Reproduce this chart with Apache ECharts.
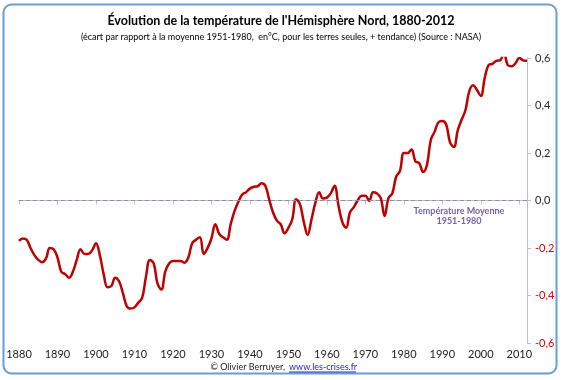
<!DOCTYPE html>
<html>
<head>
<meta charset="utf-8">
<script src="https://cdn.jsdelivr.net/npm/echarts@6/dist/echarts.min.js"></script>
<style>
html,body{margin:0;padding:0;background:#fff;}
#chart{width:562px;height:380px;}
</style>
</head>
<body>
<div id="chart"></div>
<script>
var years = [];
for (var y = 1880; y <= 2012; y++) years.push(y);
var anomalies = [
  -0.17, -0.16, -0.165, -0.20, -0.23, -0.25, -0.26, -0.245, -0.20, -0.205,
  -0.24, -0.30, -0.31, -0.325, -0.30, -0.25, -0.205, -0.225, -0.225, -0.21,
  -0.18, -0.23, -0.31, -0.365, -0.36, -0.325, -0.34, -0.39, -0.445, -0.455,
  -0.45, -0.43, -0.41, -0.32, -0.25, -0.265, -0.35, -0.375, -0.30, -0.265,
  -0.255, -0.255, -0.255, -0.262, -0.24, -0.18, -0.165, -0.155, -0.225, -0.20,
  -0.16, -0.10, -0.14, -0.155, -0.165, -0.10, -0.045, -0.005, 0.025, 0.035,
  0.05, 0.058, 0.06, 0.073, 0.062, 0.005, -0.05, -0.085, -0.10, -0.138,
  -0.115, -0.08, 0.005, -0.015, -0.09, -0.145, -0.08, -0.01, 0.035, 0.008,
  0.012, 0.03, 0.062, -0.02, -0.09, -0.115, -0.05, -0.028, 0.0, 0.02,
  0.02, -0.002, 0.035, 0.03, 0.01, -0.065, 0.01, 0.03, 0.10, 0.125,
  0.20, 0.20, 0.215, 0.165, 0.157, 0.12, 0.15, 0.255, 0.29, 0.33,
  0.335, 0.32, 0.245, 0.225, 0.295, 0.34, 0.38, 0.46, 0.485, 0.465,
  0.44, 0.515, 0.57, 0.575, 0.588, 0.59, 0.62, 0.57, 0.565, 0.578,
  0.60, 0.59, 0.588
];
var yTicks = [-0.6, -0.4, -0.2, 0.0, 0.2, 0.4, 0.6];
var titleText = "Évolution de la température de l'Hémisphère Nord, 1880-2012";
var subtitleText = "(écart par rapport à la moyenne 1951-1980,  en°C, pour les terres seules, + tendance) (Source : NASA)";
var annotationLines = ["Température Moyenne", "1951-1980"];
var creditText = "© Olivier Berruyer,";
var linkText = "www.les-crises.fr";

var FONT = "Lato, 'Noto Sans', sans-serif";
var seriesData = years.map(function (yr, i) { return [yr, anomalies[i]]; });

var chart = echarts.init(document.getElementById('chart'), null, {renderer: 'canvas'});
chart.setOption({
  backgroundColor: '#ffffff',
  animation: false,
  title: [{
    text: titleText,
    left: 'center',
    top: 9,
    textStyle: {fontFamily: FONT, fontSize: 12.5, fontWeight: 'bold', color: '#000'}
  }, {
    text: subtitleText,
    left: 'center',
    top: 28,
    textStyle: {fontFamily: FONT, fontSize: 9, fontWeight: 'normal', color: '#000'}
  }],
  grid: {left: 19, right: 35, top: 58, bottom: 37, containLabel: false},
  xAxis: {
    type: 'value',
    min: 1880,
    max: 2012,
    interval: 10,
    axisLine: {show: true, lineStyle: {color: '#bfbfbf', width: 1}},
    axisTick: {show: true, length: 4, lineStyle: {color: '#bfbfbf'}},
    splitLine: {show: false},
    axisLabel: {
      showMaxLabel: false,
      fontFamily: FONT, fontSize: 11, color: '#222', margin: 6,
      formatter: function (v) { return String(v); }
    }
  },
  yAxis: {
    type: 'value',
    position: 'right',
    min: yTicks[0],
    max: yTicks[yTicks.length - 1],
    interval: 0.2,
    axisLine: {show: true, lineStyle: {color: '#bfbfbf', width: 1}},
    axisTick: {show: true, length: 4, lineStyle: {color: '#bfbfbf'}},
    splitLine: {show: false},
    axisLabel: {
      fontFamily: FONT, fontSize: 11, margin: 8,
      color: function (v) { return Number(v) < -0.001 ? '#e0000b' : '#222'; },
      formatter: function (v) { return v.toFixed(1).replace('-0.0', '0.0').replace('.', ','); }
    }
  },
  series: [{
    type: 'line',
    data: seriesData,
    smooth: 0.4,
    symbol: 'none',
    lineStyle: {color: '#c00000', width: 2.5},
    markLine: {
      silent: true,
      symbol: 'none',
      label: {show: false},
      lineStyle: {color: '#8c8cb8', type: [4, 3], width: 1},
      data: [{yAxis: 0}]
    },
    z: 3
  }],
  graphic: [
    {
      type: 'rect',
      shape: {x: 3.5, y: 4.5, width: 553, height: 369, r: 8},
      style: {fill: 'none', stroke: '#6b9bd6', lineWidth: 2},
      silent: true
    },
    {
      type: 'text',
      x: 459, y: 211,
      style: {text: annotationLines[0], fontFamily: FONT, fontSize: 9, fontWeight: 'bold',
        fill: '#7564a6', align: 'center', verticalAlign: 'middle'}
    },
    {
      type: 'text',
      x: 459, y: 221,
      style: {text: annotationLines[1], fontFamily: FONT, fontSize: 9, fontWeight: 'bold',
        fill: '#7564a6', align: 'center', verticalAlign: 'middle'}
    },
    {
      type: 'text',
      x: 285, y: 367,
      style: {text: creditText, fontFamily: FONT, fontSize: 9, fill: '#222',
        align: 'right', verticalAlign: 'middle'}
    },
    {
      type: 'text',
      x: 289, y: 367,
      style: {text: linkText, fontFamily: FONT, fontSize: 9, fill: '#1f1fd0',
        align: 'left', verticalAlign: 'middle'}
    },
    {
      type: 'line',
      shape: {x1: 289, y1: 372, x2: 356, y2: 372},
      style: {stroke: '#1f1fd0', lineWidth: 1}
    }
  ]
});
</script>
</body>
</html>
